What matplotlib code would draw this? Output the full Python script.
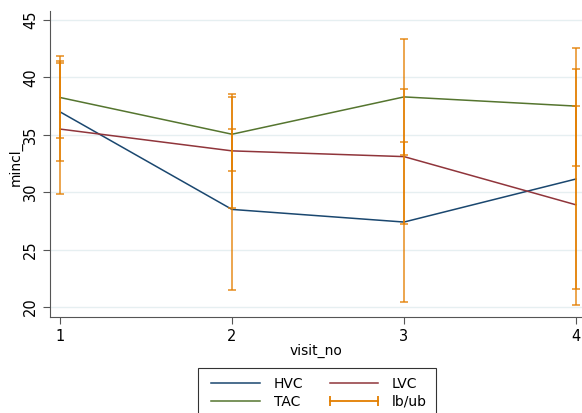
import numpy as np
import matplotlib
matplotlib.use("Agg")
import matplotlib.pyplot as plt
from matplotlib.lines import Line2D

# data
visit_no = [1, 2, 3, 4]
hvc = [37.0, 28.5, 27.4, 31.15]
lvc = [35.5, 33.6, 33.1, 28.9]
tac = [38.25, 35.05, 38.3, 37.5]

hvc_lb = [32.7, 21.5, 20.45, 21.55]
hvc_ub = [41.45, 35.5, 34.4, 40.75]
lvc_lb = [29.85, 28.6, 27.25, 20.15]
lvc_ub = [41.25, 38.55, 38.95, 37.55]
tac_lb = [34.7, 31.85, 33.25, 32.3]
tac_ub = [41.9, 38.3, 43.35, 42.6]

yticks = [20, 25, 30, 35, 40, 45]

navy = '#1a476f'
maroon = '#90353b'
green = '#55752f'
orange = '#e37e00'

fig = plt.figure(figsize=(5.82, 4.13), dpi=100)
ax = fig.add_axes([50/582, 1-317/413, 1-50/582, (317-11)/413])

ax.plot(visit_no, hvc, color=navy, lw=1.1)
ax.plot(visit_no, lvc, color=maroon, lw=1.1)
ax.plot(visit_no, tac, color=green, lw=1.1)

for lb, ub in [(hvc_lb, hvc_ub), (lvc_lb, lvc_ub), (tac_lb, tac_ub)]:
    lb = np.array(lb)
    ub = np.array(ub)
    ax.errorbar(visit_no, (lb + ub) / 2, yerr=(ub - lb) / 2, fmt='none',
                ecolor=orange, elinewidth=1.3, capsize=2.6, capthick=1.3, alpha=0.75)

ax.set_xlim(1 - 10/172, 4 + 6/172)
ax.set_ylim(20 - 10/11.48, 45 + 9/11.48)
ax.set_xticks(visit_no)
ax.set_yticks(yticks)
ax.set_yticklabels([str(t) for t in yticks], rotation=90, va='center')
ax.grid(axis='y', color='#e6eff1', lw=1.0)
ax.set_axisbelow(True)
for s in ['top', 'right']:
    ax.spines[s].set_visible(False)
for s in ['left', 'bottom']:
    ax.spines[s].set_color('#555555')
ax.tick_params(labelsize=10.5, color='#555555', length=5)
ax.set_xlabel('visit_no', fontsize=10, labelpad=0)
ax.set_ylabel('mincl_', fontsize=10, labelpad=0)

# row-wise order like the reference: HVC LVC / TAC lb/ub
handles = [Line2D([], [], color=navy, lw=1.1),
           Line2D([], [], color=green, lw=1.1),
           Line2D([], [], color=maroon, lw=1.1),
           Line2D([], [], color=orange, lw=1.3, marker='|', markersize=7, markeredgewidth=1.3)]
labels = ['HVC', 'TAC', 'LVC', 'lb/ub']
leg = fig.legend(handles, labels, ncol=2, loc='upper center',
                 bbox_to_anchor=(317/582, 1-368/413), numpoints=2,
                 fontsize=10, handlelength=4.1, columnspacing=1.6,
                 labelspacing=0.25, fancybox=False, edgecolor='black',
                 borderpad=0.65, handletextpad=0.7, borderaxespad=0)
leg.get_frame().set_linewidth(0.8)

fig.savefig('out.png', dpi=100)
